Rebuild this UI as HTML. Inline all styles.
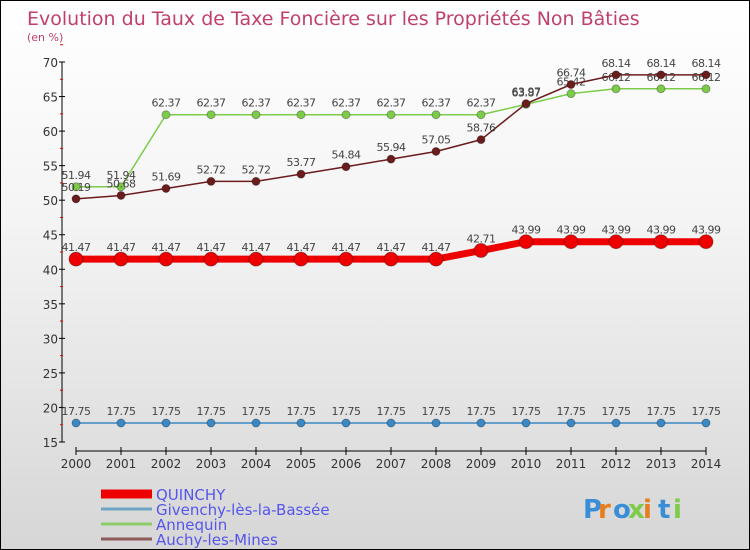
<!DOCTYPE html>
<html><head><meta charset="utf-8"><style>
body{margin:0}
#c{width:748px;height:548px;border:1px solid #000;background:linear-gradient(#fff 0%,#f4f4f4 40%,#d6d6d6 100%);position:relative;font-family:"DejaVu Sans","Liberation Sans",sans-serif;overflow:hidden}
</style></head><body>
<div id="c">
<svg id="s" width="748" height="548"></svg>
</div>
<script>
const years=["2000","2001","2002","2003","2004","2005","2006","2007","2008","2009","2010","2011","2012","2013","2014"];
const quinchy=[41.47,41.47,41.47,41.47,41.47,41.47,41.47,41.47,41.47,42.71,43.99,43.99,43.99,43.99,43.99];
const givenchy=[17.75,17.75,17.75,17.75,17.75,17.75,17.75,17.75,17.75,17.75,17.75,17.75,17.75,17.75,17.75];
const annequin=[51.94,51.94,62.37,62.37,62.37,62.37,62.37,62.37,62.37,62.37,63.87,65.42,66.12,66.12,66.12];
const auchy=[50.19,50.68,51.69,52.72,52.72,53.77,54.84,55.94,57.05,58.76,63.97,66.74,68.14,68.14,68.14];
const yTicks=[15,20,25,30,35,40,45,50,55,60,65,70];
const legendNames=["QUINCHY","Givenchy-lès-la-Bassée","Annequin","Auchy-les-Mines"];
const NS="http://www.w3.org/2000/svg",s=document.getElementById('s');
const X=i=>75+i*45, Y=v=>441-(v-15)*380/55;
function el(t,a,p){const e=document.createElementNS(NS,t);for(const k in a)e.setAttribute(k,a[k]);(p||s).appendChild(e);return e;}
function tx(x,y,str,a){const e=el('text',Object.assign({x:x,y:y},a));e.textContent=str;return e;}
let t=tx(26,24,"Evolution du Taux de Taxe Foncière sur les Propriétés Non Bâties",{fill:"#c0406a","font-size":19});

t=tx(26,40,"(en %)",{fill:"#c0406a","font-size":11});

let a=el('line',{x1:61,y1:61,x2:61,y2:441,stroke:"#000"});

yTicks.forEach(v=>{el('line',{x1:58,x2:64,y1:Y(v),y2:Y(v),stroke:"#000"});
 el('line',{x1:59,x2:62,y1:Y(v+2.5),y2:Y(v+2.5),stroke:"#e00"});
 let l=tx(57,Y(v)+5,String(v),{fill:"#333","font-size":12,"text-anchor":"end"});
 });
a=el('line',{x1:75,y1:450,x2:705,y2:450,stroke:"#000"});

years.forEach((y,i)=>{el('line',{x1:X(i),x2:X(i),y1:446,y2:454,stroke:"#000"});
 let l=tx(X(i),467,y,{fill:"#333","font-size":12,"text-anchor":"middle"});
 });
function series(d,color,w,r,name,lab){
 const g=el('g',{});
 const p=el('polyline',{points:d.map((v,i)=>X(i)+","+Y(v)).join(" "),fill:"none",stroke:color,"stroke-width":w},g);
 
 d.forEach((v,i)=>{const c=el('circle',{cx:X(i),cy:Y(v),r:r,fill:color,stroke:"rgba(0,0,0,0.3)"},g);
  
  const l=tx(X(i),Y(v)-8,v.toFixed(2),{fill:"#444","font-size":11,"text-anchor":"middle","letter-spacing":"-0.5"},g);
  });
}
series(givenchy,"#3a88c4",1.5,4,"givenchy");
series(annequin,"#7ccc4a",1.5,4,"annequin");
series(auchy,"#6b1c1c",1.5,4,"auchy");
series(quinchy,"#ee0000",7,7,"quinchy");
const lc=["#ee0000","#6fa4c4","#8ccc6a","#8f5a5a"],lw=[9,3,3,3];
legendNames.forEach((n,i)=>{const y=493+i*15;
 const g=el('g',{});
 el('line',{x1:100,x2:151,y1:y,y2:y,stroke:lc[i],"stroke-width":lw[i]},g);
 tx(155,y+6,n,{fill:"#5555ee","font-size":15},g);});
const lg=el('g',{});
const cols=["#3a8ed8","#e87d1e","#3a8ed8","#7ccc4a","#e87d1e","#3a8ed8","#7ccc4a"];
"Proxiti".split("").forEach((ch,i)=>tx(582+i*15,517,ch,{fill:cols[i],"font-size":26,"font-weight":"bold"},lg));
</script>
</body></html>
